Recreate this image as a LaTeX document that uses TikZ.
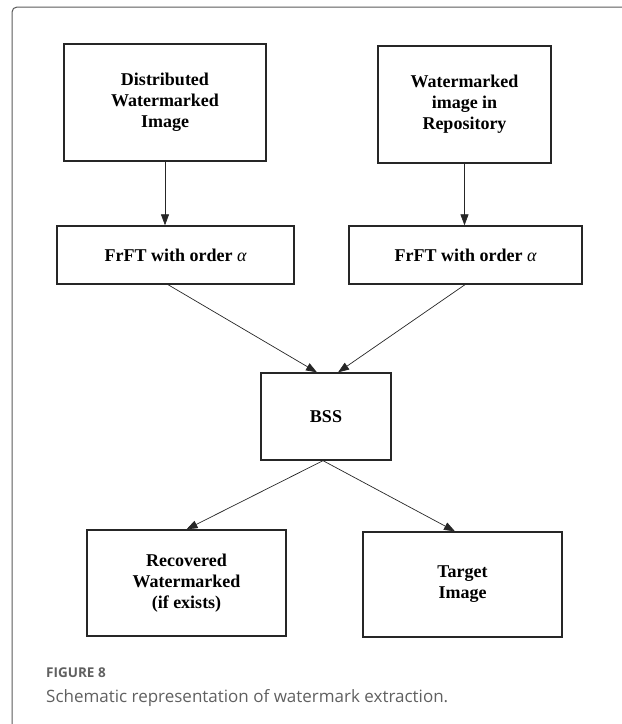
\documentclass[tikz,border=0pt]{standalone}
\usepackage{fontspec}
\setmainfont{Liberation Serif}
\newfontfamily\capfont{Open Sans}
\usetikzlibrary{arrows.meta}
\definecolor{framegray}{HTML}{5A5A5A}
\definecolor{capgray}{HTML}{606060}
\newcommand{\ordsym}{{\mdseries\itshape α}}

\begin{document}
\begin{tikzpicture}[x=1pt,y=-1pt,
    blk/.style={draw=black!85,line width=1.3pt,align=center,inner sep=0pt,
      font=\bfseries\fontsize{18}{21}\selectfont},
    conn/.style={-{Triangle[length=11pt,width=8pt]},line width=0.7pt,black!85}]
    \useasboundingbox (0,0) rectangle (622,724);
    \draw[framegray,line width=1pt,rounded corners=5pt] (12,724) -- (12,7) -- (622,7);

    \node[blk,minimum width=202pt,minimum height=117pt] (dist) at (165,102.5) {Distributed\\Watermarked\\Image};
    \node[blk,minimum width=173pt,minimum height=117pt] (repo) at (464.5,104.5) {Watermarked\\image in\\Repository};
    \node[blk,minimum width=237pt,minimum height=58pt] (frftL) at (175.5,255) {FrFT with order \ordsym};
    \node[blk,minimum width=233pt,minimum height=58pt] (frftR) at (465.5,255) {FrFT with order \ordsym};
    \node[blk,minimum width=130pt,minimum height=87pt] (bss) at (326,416.5) {BSS};
    \node[blk,minimum width=199pt,minimum height=106pt] (rec) at (186.5,583) {Recovered\\Watermarked\\(if exists)};
    \node[blk,minimum width=199pt,minimum height=105pt] (tgt) at (462.5,584.5) {Target\\Image};

    \path[conn]
    (dist.south) edge (dist.south |- frftL.north)
    (repo.south) edge (repo.south |- frftR.north)
    ([xshift=-7.5pt]frftL.south) edge ([xshift=-9pt]bss.north)
    ([xshift=-0.5pt]frftR.south) edge ([xshift=12pt]bss.north)
    ([xshift=-3pt]bss.south) edge (rec.north)
    ([xshift=-3pt]bss.south) edge ([xshift=-7.5pt]tgt.north)
    ;

    % caption below the chart
    \node[anchor=base west,inner sep=0pt,text=capgray,font=\capfont\bfseries\fontsize{13.5}{16}\selectfont] (fignum) at (46,677) {FIGURE 8};
    \node[anchor=base west,inner sep=0pt,text=capgray,font=\capfont\fontsize{17}{20}\selectfont] (figcap) at (46,702.5) {Schematic representation of watermark extraction.};
  \end{tikzpicture}
\end{document}
